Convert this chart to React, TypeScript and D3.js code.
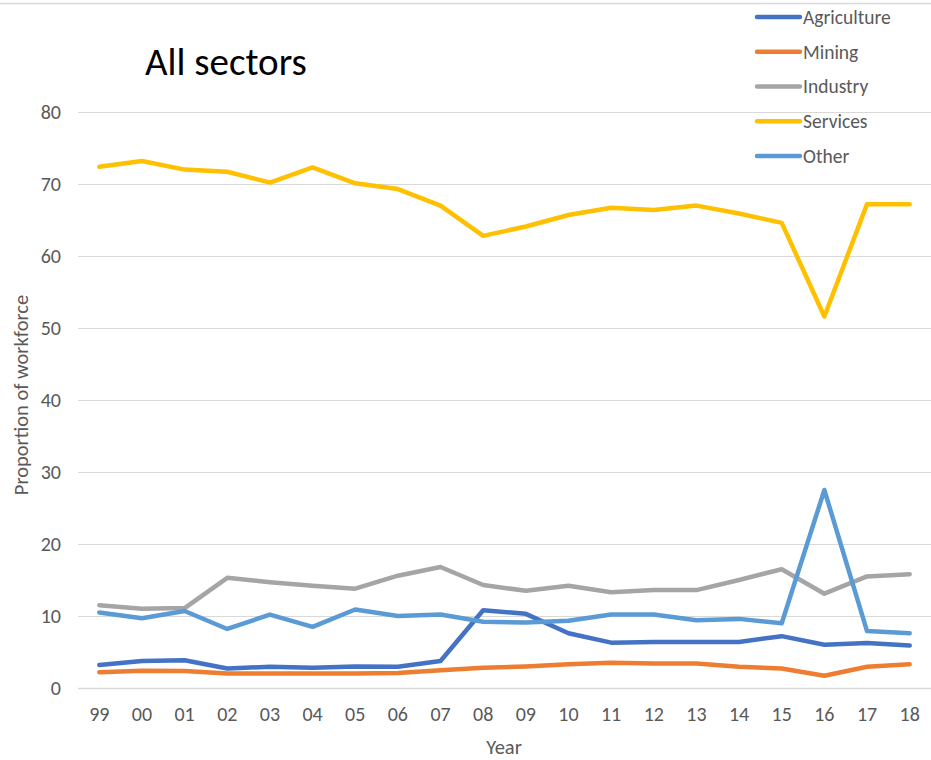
import React, { useEffect, useRef } from "react";
import * as d3 from "d3";

const years = ["99","00","01","02","03","04","05","06","07","08","09","10","11","12","13","14","15","16","17","18"];
const agriculture = [3.2,3.75,3.85,2.7,2.95,2.8,3.0,2.95,3.75,10.8,10.3,7.6,6.3,6.4,6.4,6.4,7.2,6.0,6.25,5.9];
const mining = [2.2,2.4,2.35,2.0,2.0,2.0,2.0,2.1,2.45,2.8,3.0,3.3,3.5,3.4,3.4,2.95,2.7,1.7,2.95,3.3];
const industry = [11.5,11.0,11.1,15.3,14.7,14.2,13.8,15.6,16.8,14.3,13.5,14.2,13.3,13.6,13.6,15.0,16.5,13.1,15.5,15.8];
const services = [72.4,73.2,72.0,71.7,70.2,72.3,70.1,69.3,67.0,62.8,64.1,65.7,66.7,66.4,67.0,65.9,64.6,51.6,67.2,67.2];
const other = [10.5,9.7,10.7,8.2,10.2,8.5,10.9,10.0,10.2,9.2,9.1,9.35,10.2,10.2,9.4,9.6,9.0,27.5,7.9,7.6];
const yTicks = [0,10,20,30,40,50,60,70,80];
const seriesNames = ["Agriculture","Mining","Industry","Services","Other"];
const seriesColors = ["#4472C4","#ED7D31","#A5A5A5","#FFC000","#5B9BD5"];
const seriesData = [agriculture, mining, industry, services, other];

const W = 931, H = 760;
const FONT = "Carlito, Lato, 'Open Sans', sans-serif";

export default function App() {
  const ref = useRef<SVGSVGElement>(null);
  useEffect(() => {
    const svg = d3.select(ref.current);
    svg.selectAll("*").remove();
    const x = d3.scaleBand<string>().domain(years).range([78, 931]);
    const y = d3.scaleLinear().domain([0, 80]).range([688, 112]);

    // top border
    svg.append("line").attr("x1", 0).attr("x2", W).attr("y1", 3.5).attr("y2", 3.5)
      .attr("stroke", "#D9D9D9").attr("stroke-width", 1.5);

    // gridlines
    svg.append("g").selectAll("line").data(yTicks).join("line")
      .attr("x1", 78).attr("x2", 931)
      .attr("y1", d => y(d) + 0.5).attr("y2", d => y(d) + 0.5)
      .attr("stroke", "#D9D9D9").attr("stroke-width", d => d === 0 ? 1.5 : 1.2);

    // y tick labels
    svg.append("g").selectAll("text").data(yTicks).join("text")
      .attr("x", 61).attr("y", d => y(d)).attr("dy", "0.35em")
      .attr("text-anchor", "end").attr("font-family", FONT).attr("font-size", 20)
      .attr("fill", "#595959").text(d => String(d));

    // x tick labels
    svg.append("g").selectAll("text").data(years).join("text")
      .attr("x", d => (x(d) as number) + x.bandwidth() / 2).attr("y", 714).attr("dy", "0.35em")
      .attr("text-anchor", "middle").attr("font-family", FONT).attr("font-size", 20)
      .attr("fill", "#595959").text(d => d);

    // axis titles
    svg.append("text").attr("x", 504).attr("y", 747).attr("dy", "0.35em")
      .attr("text-anchor", "middle").attr("font-family", FONT).attr("font-size", 20.5)
      .attr("fill", "#595959").text("Year");
    svg.append("text").attr("transform", "translate(21,395) rotate(-90)").attr("dy", "0.35em")
      .attr("text-anchor", "middle").attr("font-family", FONT).attr("font-size", 20.5)
      .attr("fill", "#595959").text("Proportion of workforce");

    // title
    svg.append("text").attr("x", 145).attr("y", 61).attr("dy", "0.35em")
      .attr("font-family", FONT).attr("font-size", 39).attr("fill", "#000").text("All sectors");

    // lines
    const line = d3.line<number>()
      .x((_, i) => (x(years[i]) as number) + x.bandwidth() / 2)
      .y(d => y(d));
    svg.append("g").selectAll("path").data(seriesData).join("path")
      .attr("d", d => line(d))
      .attr("fill", "none")
      .attr("stroke", (_, i) => seriesColors[i])
      .attr("stroke-width", 4.5)
      .attr("stroke-linejoin", "round")
      .attr("stroke-linecap", "round");

    // legend
    const lg = svg.append("g").selectAll("g").data(seriesNames).join("g")
      .attr("transform", (_, i) => `translate(0,${17 + i * 34.75})`);
    lg.append("line").attr("x1", 757).attr("x2", 800).attr("y1", 0).attr("y2", 0)
      .attr("stroke", (_, i) => seriesColors[i]).attr("stroke-width", 4.5).attr("stroke-linecap", "round");
    lg.append("text").attr("x", 803).attr("y", 0).attr("dy", "0.35em")
      .attr("font-family", FONT).attr("font-size", 19.5).attr("fill", "#595959").text(d => d);
  }, []);
  return (
    <svg ref={ref} width={W} height={H} style={{ position: "absolute", left: 0, top: 0, background: "#fff" }} />
  );
}
